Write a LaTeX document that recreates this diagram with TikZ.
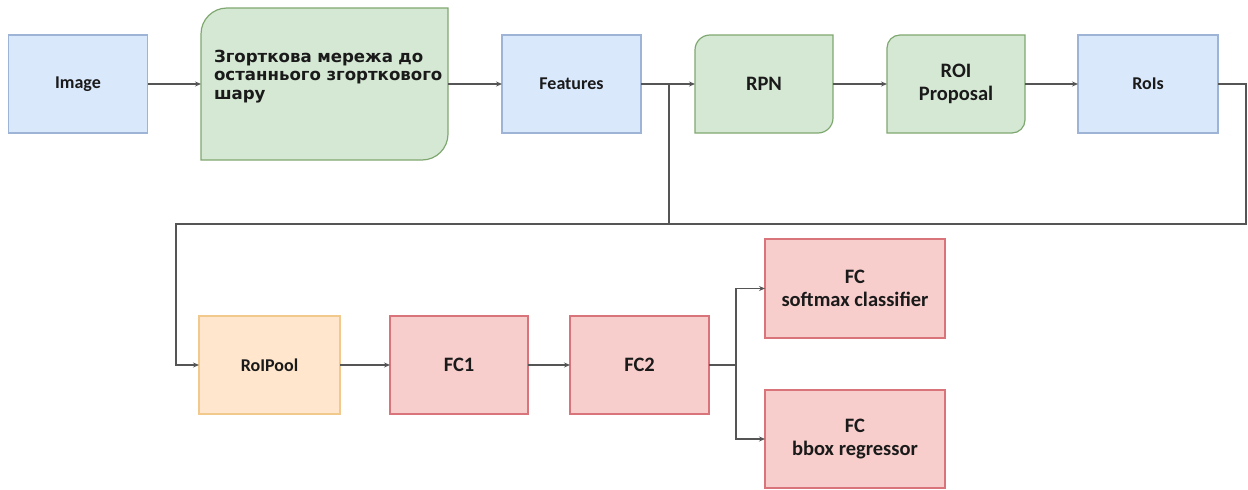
\documentclass[tikz,border=0pt]{standalone}
\usepackage{fontspec}
\setmainfont{Carlito}
\newfontfamily\cyrfont{DejaVu Sans}
\usetikzlibrary{arrows.meta,backgrounds}

\definecolor{bluefill}{HTML}{DAE8FC}
\definecolor{bluedraw}{HTML}{9DB4D6}
\definecolor{greenfill}{HTML}{D5E8D4}
\definecolor{greendraw}{HTML}{7FA870}
\definecolor{orangefill}{HTML}{FFE6CC}
\definecolor{orangedraw}{HTML}{F2C98C}
\definecolor{redfill}{HTML}{F8CECC}
\definecolor{reddraw}{HTML}{D9747A}
\definecolor{linegray}{HTML}{555555}
\definecolor{textdark}{HTML}{1A1A1A}

% card outline with rounded top-left and bottom-right corners
\newcommand\cardpath[2]{(#1.south west) -- ([yshift=-#2]#1.north west)
  arc[start angle=180,end angle=90,radius=#2] -- (#1.north east)
  -- ([yshift=#2]#1.south east) arc[start angle=0,end angle=-90,radius=#2] -- cycle}

\tikzset{
  box/.style={rectangle, outer sep=0pt, inner sep=4pt, align=center,
    text=textdark, font=\bfseries\fontsize{18}{21}\selectfont},
  bigtext/.style={font=\bfseries\fontsize{20.5}{23}\selectfont},
  bluebox/.style={box, fill=bluefill, draw=bluedraw, line width=1.2pt,
    minimum width=139pt, minimum height=98pt},
  greenbox/.style={box, bigtext, minimum width=138pt, minimum height=98pt},
  redbox/.style={box, bigtext, fill=redfill, draw=reddraw, line width=1.2pt,
    minimum width=138pt, minimum height=98pt},
  orangebox/.style={box, fill=orangefill, draw=orangedraw, line width=1.2pt,
    minimum width=141pt, minimum height=98pt},
  cardfill/.style={fill=greenfill, draw=greendraw, line width=1.2pt},
  flow/.style={draw=linegray, line width=1.1pt,
    -{Stealth[length=6pt,width=5pt]}},
  wire/.style={draw=linegray, line width=1.1pt},
}

\begin{document}
\begin{tikzpicture}[x=1pt,y=1pt]
\useasboundingbox (0,0) rectangle (1248,-490);

% top row
\node[bluebox] (img) at (78,-84) {Image};
\node[box, minimum width=247pt, minimum height=152pt, align=left,
  text width=221pt, font=\cyrfont\bfseries\fontsize{16.6}{18.5}\selectfont]
  (conv) at (324.5,-84)
  {\mbox{Згорткова мережа до}\\\mbox{останнього згорткового}\\шару\\[0pt]~};
\node[bluebox] (feat) at (571.5,-84) {Features};
\node[greenbox] (rpn) at (764,-84) {RPN};
\node[greenbox] (prop) at (956,-84) {ROI\\Proposal};
\node[bluebox, minimum width=140pt] (rois) at (1148,-84) {RoIs};

% bottom row
\node[orangebox] (pool) at (269.5,-365) {RoIPool};
\node[redbox] (fc1) at (459,-365) {FC1};
\node[redbox, minimum width=139pt] (fc2) at (639.5,-365) {FC2};
\node[redbox, minimum width=180pt, minimum height=99pt] (cls) at (855,-288.5)
  {FC\\softmax classifier};
\node[redbox, minimum width=180pt] (reg) at (855,-439) {FC\\bbox regressor};

% green card outlines behind their labels
\begin{scope}[on background layer]
  \path[cardfill] \cardpath{conv}{26pt};
  \path[cardfill] \cardpath{rpn}{15pt};
  \path[cardfill] \cardpath{prop}{13pt};
\end{scope}

% junction points of the routed wires
\coordinate (split) at ([xshift=28pt]feat.east);
\coordinate (bus) at (split |- 0,-224);
\coordinate (fork) at ([xshift=27pt]fc2.east);

% main chain
\draw[flow] (img) -- (conv);
\draw[flow] (conv) -- (feat);
\draw[flow] (feat) -- (rpn);
\draw[flow] (rpn) -- (prop);
\draw[flow] (prop) -- (rois);

% RoIs and features into RoIPool
\draw[flow] (rois.east) -- ++(28pt,0) |- (176,-224) |- (pool.west);
\draw[wire] (split) -- (bus);

% second stage
\draw[flow] (pool) -- (fc1);
\draw[flow] (fc1) -- (fc2);
\draw[wire] (fc2.east) -- (fork);
\draw[flow] (fork) |- (cls.west);
\draw[flow] (fork) |- (reg.west);
\end{tikzpicture}
\end{document}
